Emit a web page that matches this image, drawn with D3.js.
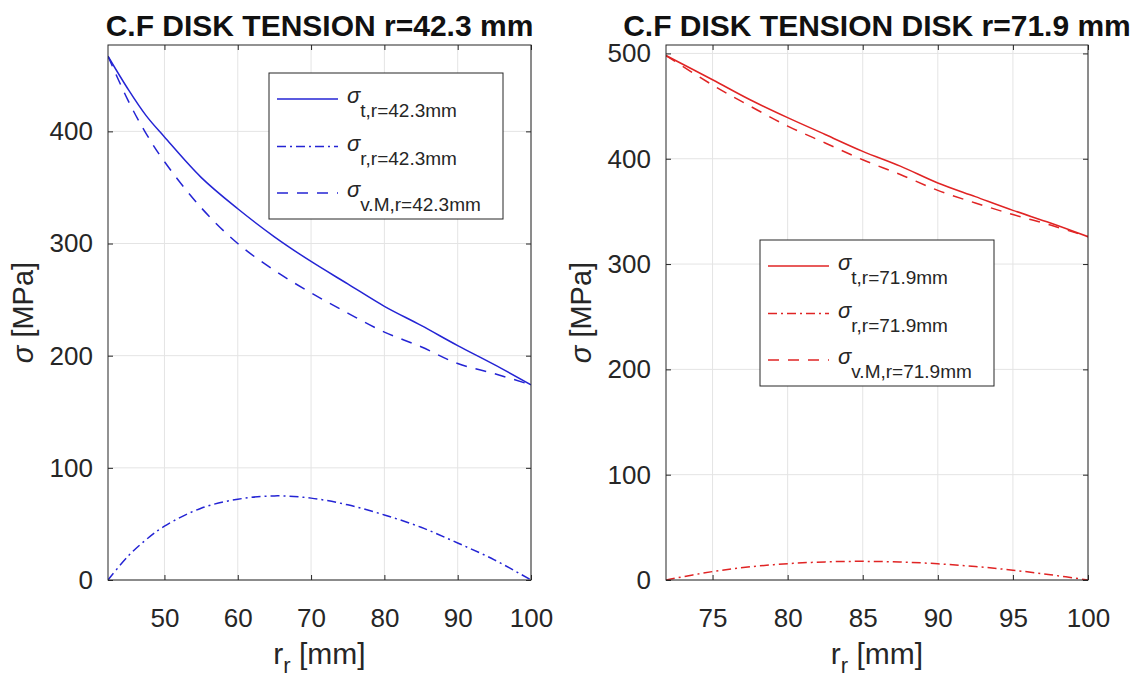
<!DOCTYPE html>
<html>
<head>
<meta charset="utf-8">
<script src="https://cdn.jsdelivr.net/npm/d3@7"></script>
<style>
  body { margin: 0; background: #fff; }
  svg { display: block; font-family: "Liberation Sans", Arial, Helvetica, sans-serif; }
</style>
</head>
<body>
<svg id="chart" width="1142" height="682"></svg>
<script>
// --- data ---
const leftRadius     = [42.3, 45, 47.5, 50, 55, 60, 65, 70, 75, 80, 85, 90, 95, 100];
const leftTangential = [467, 438, 414, 395, 359, 331, 306, 284, 264, 244, 227, 209, 192, 174];
const leftRadial     = [0, 21, 36, 48, 64, 72, 75, 73, 67, 58, 47, 33, 18, 0];
const leftVonMises   = [467, 428, 398, 373, 332, 300, 276, 256, 238, 221, 208, 193, 184, 174];

const rightRadius     = [71.9, 75, 77.5, 80, 82.5, 85, 87.5, 90, 92.5, 95, 97.5, 100];
const rightTangential = [498, 475, 456, 439, 423, 407, 393, 377, 364, 351, 339, 326];
const rightRadial     = [0, 8, 12.5, 15.5, 17.2, 17.7, 17.1, 15.4, 12.8, 9.3, 5, 0];
const rightVonMises   = [498, 470, 450, 431, 415, 399, 385, 370, 358, 347, 337, 326];

const leftXTicks  = [50, 60, 70, 80, 90, 100];
const leftYTicks  = [0, 100, 200, 300, 400];
const rightXTicks = [75, 80, 85, 90, 95, 100];
const rightYTicks = [0, 100, 200, 300, 400, 500];

const panelTitles  = ["C.F DISK TENSION r=42.3 mm", "C.F DISK TENSION DISK r=71.9 mm"];
const legendSubs   = [
  ["t,r=42.3mm", "r,r=42.3mm", "v.M,r=42.3mm"],
  ["t,r=71.9mm", "r,r=71.9mm", "v.M,r=71.9mm"]
];

const svg = d3.select("#chart");
const ink = "#262626";
const dashes = ["none", "9,4,2,4", "11,9"];

const panels = [
  {
    left: 108, right: 531, xDomain: [42.3, 100], yDomain: [0, 477],
    xTicks: leftXTicks, yTicks: leftYTicks, color: "#2424d4",
    title: panelTitles[0], subs: legendSubs[0], legend: { x: 269, y: 73 },
    radius: leftRadius, series: [leftTangential, leftRadial, leftVonMises]
  },
  {
    left: 666, right: 1088, xDomain: [71.9, 100], yDomain: [0, 508],
    xTicks: rightXTicks, yTicks: rightYTicks, color: "#e02424",
    title: panelTitles[1], subs: legendSubs[1], legend: { x: 760, y: 240 },
    radius: rightRadius, series: [rightTangential, rightRadial, rightVonMises]
  }
];

const plotTop = 45, plotBottom = 580;

panels.forEach((p, i) => {
  const x = d3.scaleLinear().domain(p.xDomain).range([p.left, p.right]);
  const y = d3.scaleLinear().domain(p.yDomain).range([plotBottom, plotTop]);
  const g = svg.append("g");

  // grid
  g.selectAll(".gx").data(p.xTicks).enter().append("line")
    .attr("x1", d => x(d)).attr("x2", d => x(d))
    .attr("y1", plotTop).attr("y2", plotBottom)
    .attr("stroke", "#e4e4e4").attr("stroke-width", 1);
  g.selectAll(".gy").data(p.yTicks).enter().append("line")
    .attr("x1", p.left).attr("x2", p.right)
    .attr("y1", d => y(d)).attr("y2", d => y(d))
    .attr("stroke", "#e4e4e4").attr("stroke-width", 1);

  // curves
  const clipId = "clip" + i;
  svg.append("clipPath").attr("id", clipId).append("rect")
    .attr("x", p.left).attr("y", plotTop - 1)
    .attr("width", p.right - p.left).attr("height", plotBottom - plotTop + 2);

  const line = d3.line()
    .x((d, k) => x(p.radius[k]))
    .y(d => y(d))
    .curve(d3.curveCatmullRom.alpha(0.5));

  p.series.forEach((vals, k) => {
    g.append("path")
      .attr("d", line(vals))
      .attr("fill", "none")
      .attr("stroke", p.color)
      .attr("stroke-width", 1.5)
      .attr("stroke-dasharray", dashes[k])
      .attr("clip-path", `url(#${clipId})`);
  });

  // axes (ticks point inward like MATLAB)
  const fmt = d3.format("d");
  g.append("g").attr("transform", `translate(0,${plotBottom})`)
    .call(d3.axisBottom(x).tickValues(p.xTicks).tickFormat(fmt)
      .tickSizeInner(-5).tickSizeOuter(0).tickPadding(29));
  g.append("g").attr("transform", `translate(0,${plotTop})`)
    .call(d3.axisTop(x).tickValues(p.xTicks).tickFormat("")
      .tickSizeInner(-5).tickSizeOuter(0));
  g.append("g").attr("transform", `translate(${p.left},0)`)
    .call(d3.axisLeft(y).tickValues(p.yTicks).tickFormat(fmt)
      .tickSizeInner(-5).tickSizeOuter(0).tickPadding(15));
  g.append("g").attr("transform", `translate(${p.right},0)`)
    .call(d3.axisRight(y).tickValues(p.yTicks).tickFormat("")
      .tickSizeInner(-5).tickSizeOuter(0));

  g.selectAll(".domain").remove();
  g.selectAll(".tick line").attr("stroke", ink);
  g.selectAll(".tick text")
    .attr("fill", ink)
    .style("font-size", "26px")
    .style("font-family", "'Liberation Sans', Arial, sans-serif");

  // box
  g.append("rect")
    .attr("x", p.left).attr("y", plotTop)
    .attr("width", p.right - p.left).attr("height", plotBottom - plotTop)
    .attr("fill", "none").attr("stroke", ink).attr("stroke-width", 1);

  const cx = (p.left + p.right) / 2;

  // title
  g.append("text")
    .attr("x", cx).attr("y", 36)
    .attr("text-anchor", "middle")
    .attr("fill", "#111")
    .style("font-size", "30px").style("font-weight", "bold")
    .text(p.title);

  // x label: r_r [mm]
  const xlab = g.append("text")
    .attr("x", cx).attr("y", 664)
    .attr("text-anchor", "middle")
    .attr("fill", ink)
    .style("font-size", "30px");
  xlab.append("tspan").text("r");
  xlab.append("tspan").attr("dy", 9).style("font-size", "22px").text("r");
  xlab.append("tspan").attr("dy", -9).text(" [mm]");

  // y label: sigma [MPa]
  const ylab = g.append("text")
    .attr("transform", `translate(${p.left - 85},${(plotTop + plotBottom) / 2}) rotate(-90)`)
    .attr("text-anchor", "middle")
    .attr("dy", "0.35em")
    .attr("fill", ink)
    .style("font-size", "29px");
  ylab.append("tspan").style("font-style", "italic").text("\u03c3");
  ylab.append("tspan").text(" [MPa]");

  // legend
  const lg = g.append("g").attr("transform", `translate(${p.legend.x},${p.legend.y})`);
  lg.append("rect")
    .attr("width", 234).attr("height", 146)
    .attr("fill", "#fff").attr("stroke", ink).attr("stroke-width", 1);
  const rows = [26, 73.5, 120];
  p.subs.forEach((s, k) => {
    lg.append("line")
      .attr("x1", 8).attr("x2", 69)
      .attr("y1", rows[k]).attr("y2", rows[k])
      .attr("stroke", p.color).attr("stroke-width", 1.5)
      .attr("stroke-dasharray", dashes[k]);
    const t = lg.append("text")
      .attr("x", 78).attr("y", rows[k] + 4)
      .attr("fill", ink)
      .style("font-size", "22px");
    t.append("tspan").style("font-style", "italic").text("\u03c3");
    t.append("tspan").attr("dy", 14).style("font-size", "19px").text(s);
  });
});
</script>
</body>
</html>
